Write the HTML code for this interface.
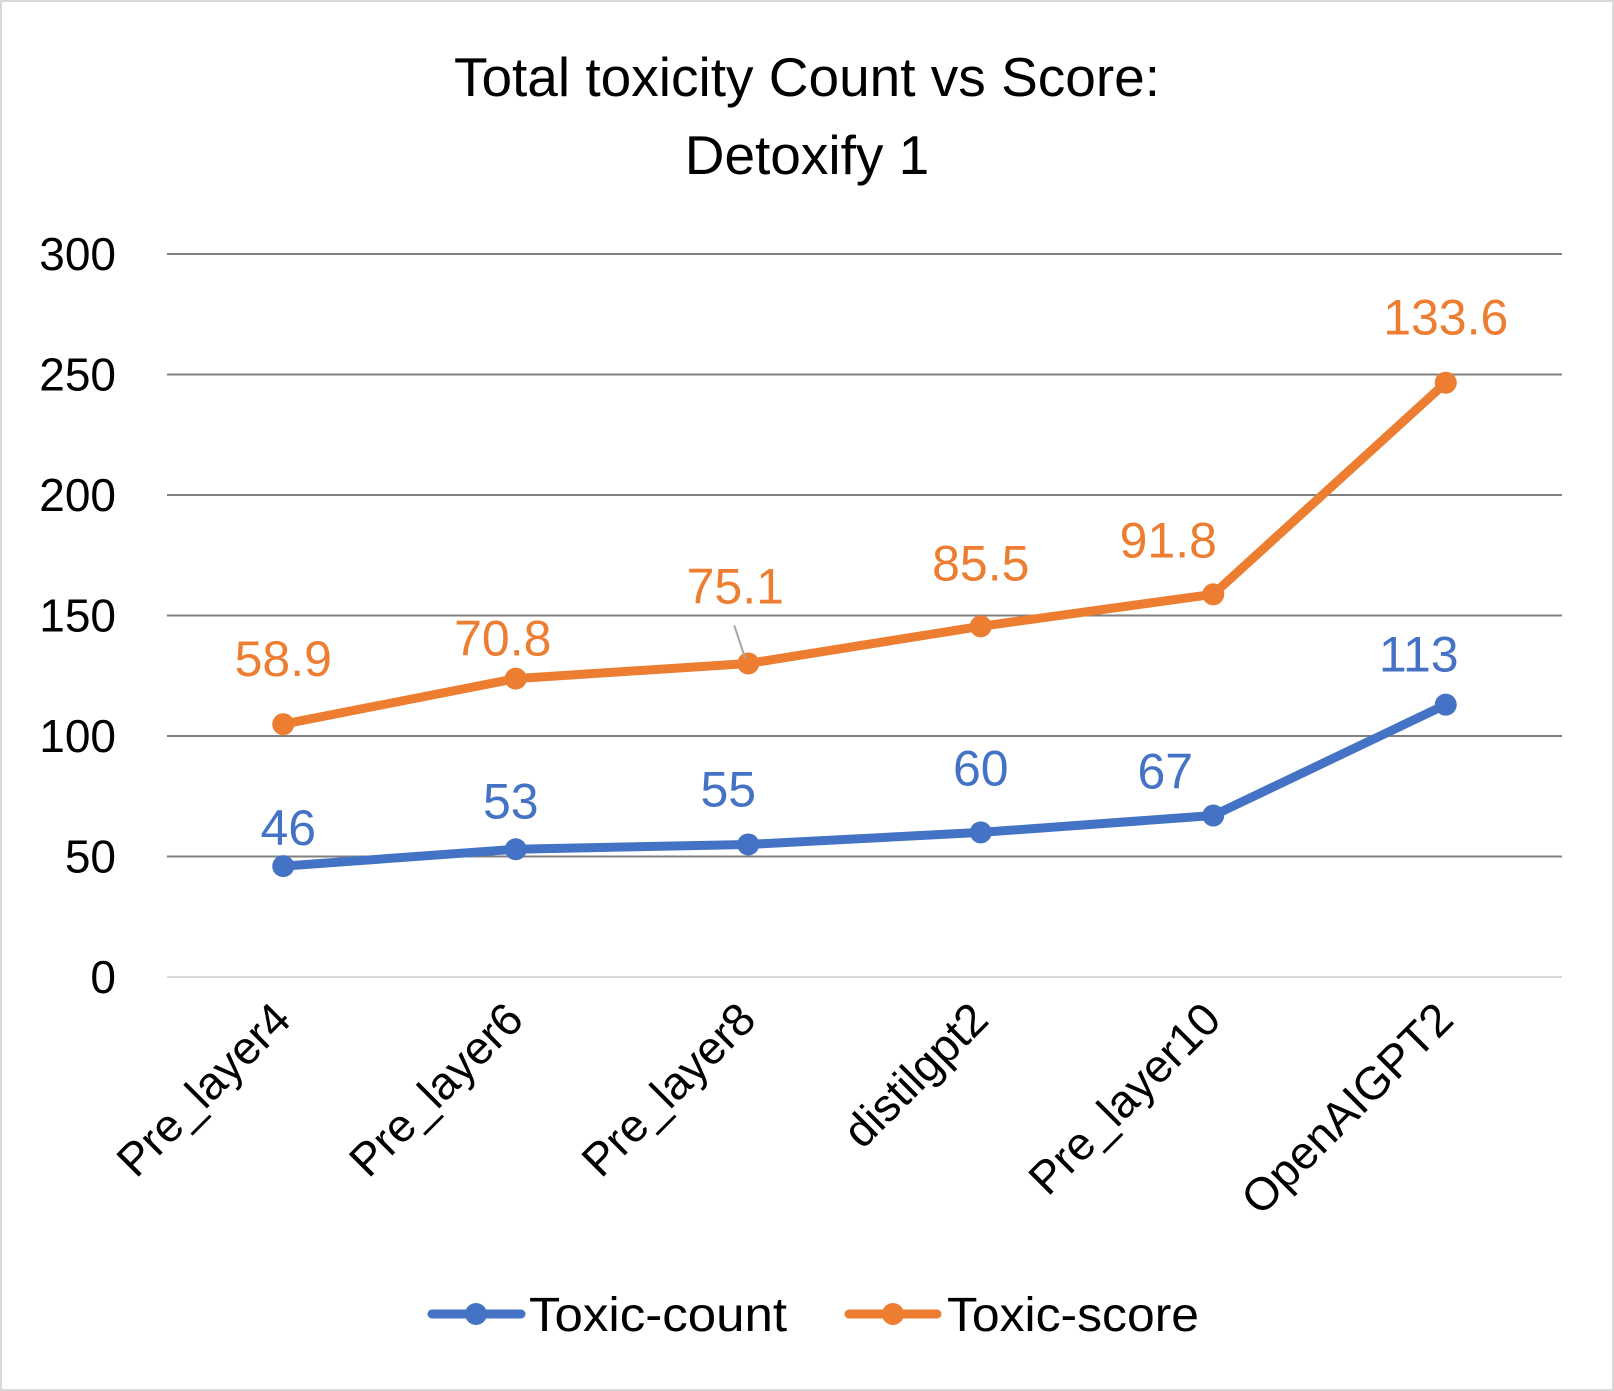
<!DOCTYPE html>
<html><head><meta charset="utf-8"><style>
body{margin:0;background:#fff}
svg{display:block;font-family:"Liberation Sans",sans-serif}
</style></head><body>
<svg id="c" width="1614" height="1391" viewBox="0 0 1614 1391">
<rect x="1" y="1" width="1612" height="1389" fill="#fff" stroke="#d9d9d9" stroke-width="2"/>
<text x="807" y="96" text-anchor="middle" font-size="55">Total toxicity Count vs Score:</text>
<text x="807" y="174" text-anchor="middle" font-size="55">Detoxify 1</text>
<g id="grid"></g><g id="xl"></g><g id="lines"></g><g id="labels"></g>
<g>
<g>
<line x1="432" y1="1314" x2="521" y2="1314" stroke="#4472c4" stroke-width="9" stroke-linecap="round"/>
<circle cx="476" cy="1314" r="11" fill="#4472c4"/>
<text x="529" y="1331" font-size="48" textLength="258" lengthAdjust="spacingAndGlyphs">Toxic-count</text></g>
<g>
<line x1="849" y1="1314" x2="937" y2="1314" stroke="#ed7d31" stroke-width="9" stroke-linecap="round"/>
<circle cx="893" cy="1314" r="11" fill="#ed7d31"/>
<text x="947" y="1331" font-size="48" textLength="252" lengthAdjust="spacingAndGlyphs">Toxic-score</text></g>
</g>
</svg>
<script>
const categories=["Pre_layer4","Pre_layer6","Pre_layer8","distilgpt2","Pre_layer10","OpenAIGPT2"];
const toxicCount=[46,53,55,60,67,113];
const toxicScore=[58.9,70.8,75.1,85.5,91.8,133.6];
const yTicks=[0,50,100,150,200,250,300];
const NS="http://www.w3.org/2000/svg";
const X0=167,X1=1562,Y0=977,Y1=254,YMAX=300;
const xs=i=>X0+(X1-X0)/categories.length*(i+0.5);
const ys=v=>Y0-(Y0-Y1)*v/YMAX;
function mk(t,a,p){const e=document.createElementNS(NS,t);for(const k in a)e.setAttribute(k,a[k]);p.appendChild(e);return e;}
const grid=document.getElementById('grid');
yTicks.forEach(v=>{
 const l=mk('line',{x1:X0,x2:X1,y1:ys(v),y2:ys(v),stroke:v===0?'#d9d9d9':'#808080','stroke-width':2},grid);
 
 
 const t=mk('text',{x:116,y:ys(v)+16,'text-anchor':'end','font-size':46},grid);t.textContent=v;
 
 
});
const xl=document.getElementById('xl');
categories.forEach((c,i)=>{
 const x=xs(i)+10,y=1022;
 const t=mk('text',{x:x,y:y,'text-anchor':'end','font-size':46,transform:`rotate(-45 ${x} ${y})`},xl);t.textContent=c;
 
 
});
const stacked=toxicScore.map((v,i)=>v+toxicCount[i]);
const lines=document.getElementById('lines');
function series(vals,color,name){
 const p=mk('polyline',{points:vals.map((v,i)=>xs(i)+','+ys(v)).join(' '),fill:'none',stroke:color,'stroke-width':9,'stroke-linejoin':'round','stroke-linecap':'round'},lines);
 
 
 vals.forEach((v,i)=>{const c=mk('circle',{cx:xs(i),cy:ys(v),r:11,fill:color},lines);
  
  });
}
series(toxicCount,'#4472c4','toxic-count');
series(stacked,'#ed7d31','toxic-score');
const labels=document.getElementById('labels');
const bOff=[[5,-38],[-5,-48],[-20,-55],[0,-64],[-48,-44],[-27,-50]];
const oOff=[[0,-65],[-13,-40],[-13,-77],[0,-63],[-45,-54],[0,-65]];
mk('line',{x1:xs(2)-3,y1:ys(stacked[2])-5,x2:xs(2)-14,y2:ys(stacked[2])-38,stroke:'#a6a6a6','stroke-width':2},labels);
function lab(vals,disp,off,color,name){
 vals.forEach((v,i)=>{const t=mk('text',{x:xs(i)+off[i][0],y:ys(v)+off[i][1]+17,'text-anchor':'middle','font-size':50,fill:color},labels);
  t.textContent=disp[i];
  
  });
}
lab(toxicCount,toxicCount,bOff,'#4472c4','toxic-count');
lab(stacked,toxicScore.map(v=>v.toFixed(1)),oOff,'#ed7d31','toxic-score');
</script>
</body></html>
